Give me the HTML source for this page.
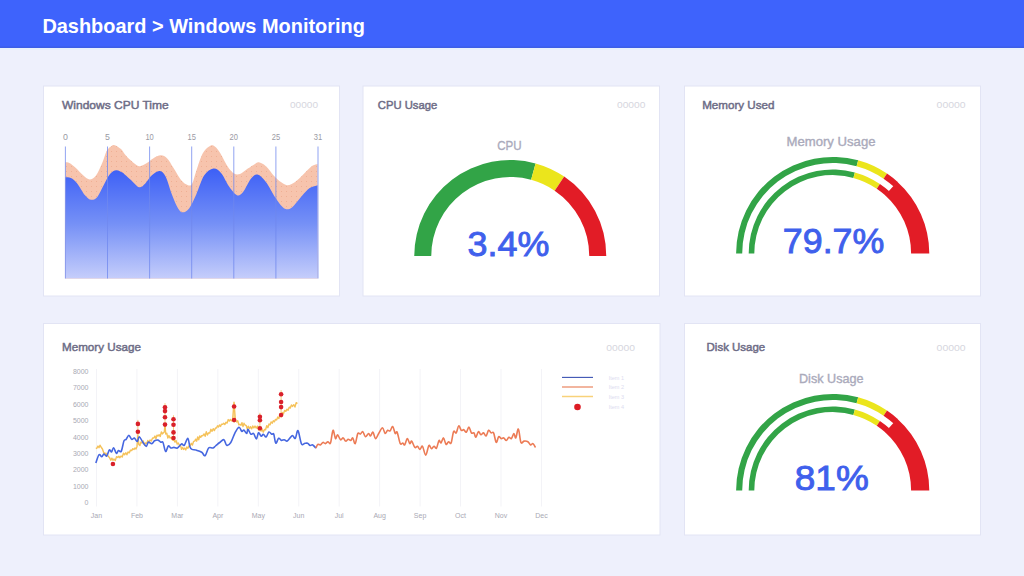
<!DOCTYPE html>
<html><head><meta charset="utf-8">
<style>
html,body{margin:0;padding:0;width:1024px;height:576px;overflow:hidden;background:#eef0fc;font-family:"Liberation Sans",sans-serif;}
svg{position:absolute;left:0;top:0;}
</style></head><body>
<svg width="1024" height="576" viewBox="0 0 1024 576">
<defs>
<linearGradient id="bg1" x1="0" y1="168" x2="0" y2="279" gradientUnits="userSpaceOnUse">
<stop offset="0" stop-color="#3c5ff6"/><stop offset="0.5" stop-color="#7590f6"/><stop offset="1" stop-color="#c6cefb"/>
</linearGradient>
<pattern id="dots" width="5" height="5" patternUnits="userSpaceOnUse"><rect width="5" height="5" fill="#f7c4ad"/><circle cx="1.5" cy="1.5" r="0.5" fill="#eda88c"/></pattern>
</defs>
<rect x="0" y="0" width="1024" height="576" fill="#eef0fc"/>
<rect x="0" y="0" width="1024" height="48" fill="#3e63fc"/><rect x="0" y="46.5" width="1024" height="1.5" fill="#3d5fe6"/><rect x="0" y="48" width="1024" height="2" fill="#e9f1fd"/>
<text x="42.4" y="32.6" fill="#ffffff" font-size="19.7" font-weight="bold" textLength="322.5" lengthAdjust="spacingAndGlyphs">Dashboard &gt; Windows Monitoring</text>

<g fill="#ffffff" stroke="#e2e4f4" stroke-width="1">
<rect x="43.5" y="86" width="296" height="210"/>
<rect x="363" y="86" width="296.5" height="210"/>
<rect x="684.5" y="86" width="296" height="210"/>
<rect x="43.5" y="323.5" width="616.5" height="211.5"/>
<rect x="684.5" y="323.5" width="296" height="211.5"/>
</g>

<g fill="#6d6c86" stroke="#6d6c86" stroke-width="0.45" font-size="11">
<text x="62" y="109.4" textLength="106.7" lengthAdjust="spacingAndGlyphs">Windows CPU Time</text>
<text x="377.8" y="109.4" textLength="59.4" lengthAdjust="spacingAndGlyphs">CPU Usage</text>
<text x="702.2" y="109.4" textLength="72.3" lengthAdjust="spacingAndGlyphs">Memory Used</text>
<text x="62" y="350.6" textLength="78.9" lengthAdjust="spacingAndGlyphs">Memory Usage</text>
<text x="706.6" y="350.6" textLength="58.6" lengthAdjust="spacingAndGlyphs">Disk Usage</text>
</g>
<g fill="#d6d6de" font-size="9.5">
<text x="290" y="108" textLength="28" lengthAdjust="spacingAndGlyphs">00000</text>
<text x="617" y="108" textLength="28.4" lengthAdjust="spacingAndGlyphs">00000</text>
<text x="936.6" y="108" textLength="29" lengthAdjust="spacingAndGlyphs">00000</text>
<text x="606.3" y="350.6" textLength="28.7" lengthAdjust="spacingAndGlyphs">00000</text>
<text x="936.6" y="350.6" textLength="29" lengthAdjust="spacingAndGlyphs">00000</text>
</g>

<!-- CPU time chart -->
<path d="M65.40,162.30 C66.07,162.43 67.70,162.18 69.40,163.10 C71.10,164.02 73.27,165.72 75.60,167.80 C77.93,169.88 81.05,173.65 83.40,175.60 C85.75,177.55 87.60,179.50 89.70,179.50 C91.80,179.50 93.92,178.33 96.00,175.60 C98.08,172.87 100.38,167.27 102.20,163.10 C104.02,158.93 105.33,153.47 106.90,150.60 C108.47,147.73 110.30,146.80 111.60,145.90 C112.90,145.00 113.13,144.68 114.70,145.20 C116.27,145.72 119.28,147.45 121.00,149.00 C122.72,150.55 123.29,152.53 125.00,154.50 C126.71,156.47 128.90,158.84 131.25,160.80 C133.60,162.76 136.49,165.87 139.10,166.25 C141.71,166.63 144.57,164.41 146.90,163.10 C149.23,161.79 150.77,159.70 153.10,158.40 C155.43,157.10 158.55,155.30 160.90,155.30 C163.25,155.30 165.12,156.32 167.20,158.40 C169.28,160.48 171.06,164.15 173.40,167.80 C175.74,171.45 178.90,177.43 181.25,180.30 C183.60,183.17 185.71,184.38 187.50,185.00 C189.29,185.62 190.54,186.35 192.00,184.00 C193.46,181.65 194.50,175.94 196.25,170.90 C198.00,165.86 200.42,157.78 202.50,153.75 C204.58,149.72 206.93,148.06 208.75,146.70 C210.57,145.34 211.58,144.68 213.40,145.60 C215.22,146.52 217.35,148.76 219.70,152.20 C222.05,155.64 225.16,162.73 227.50,166.25 C229.84,169.77 231.67,172.01 233.75,173.30 C235.83,174.59 237.66,174.78 240.00,174.00 C242.34,173.22 245.30,170.28 247.80,168.60 C250.30,166.92 253.15,164.95 255.00,163.90 C256.85,162.85 257.08,161.91 258.90,162.30 C260.72,162.69 263.17,163.77 265.90,166.25 C268.63,168.73 272.43,174.34 275.30,177.20 C278.17,180.06 280.75,182.10 283.10,183.40 C285.45,184.70 287.05,185.52 289.40,185.00 C291.75,184.48 294.33,182.65 297.20,180.30 C300.07,177.95 304.00,173.37 306.60,170.90 C309.20,168.43 310.98,166.67 312.80,165.50 C314.62,164.33 316.72,164.17 317.50,163.90 L317.5,278.5 L65.4,278.5 Z" fill="url(#dots)"/>
<path d="M65.40,177.20 C66.32,177.33 68.93,176.97 70.90,178.00 C72.87,179.03 74.85,180.53 77.20,183.40 C79.55,186.27 82.66,192.47 85.00,195.20 C87.34,197.93 89.17,199.55 91.25,199.80 C93.33,200.05 95.42,199.17 97.50,196.70 C99.58,194.23 101.67,188.78 103.75,185.00 C105.83,181.22 107.92,176.47 110.00,174.00 C112.08,171.53 114.17,170.45 116.25,170.20 C118.33,169.95 121.04,171.73 122.50,172.50 C123.96,173.27 123.54,173.50 125.00,174.80 C126.46,176.10 128.90,178.22 131.25,180.30 C133.60,182.38 136.76,186.78 139.10,187.30 C141.44,187.82 143.22,185.35 145.30,183.40 C147.38,181.45 149.25,177.68 151.60,175.60 C153.95,173.52 157.07,170.77 159.40,170.90 C161.73,171.03 163.52,172.48 165.60,176.40 C167.68,180.32 169.82,189.07 171.90,194.40 C173.98,199.73 176.28,205.42 178.10,208.40 C179.92,211.38 180.97,212.30 182.80,212.30 C184.63,212.30 186.86,211.38 189.10,208.40 C191.34,205.42 193.75,199.87 196.25,194.40 C198.75,188.93 201.24,179.90 204.10,175.60 C206.96,171.30 210.54,168.98 213.40,168.60 C216.26,168.22 218.63,170.30 221.25,173.30 C223.87,176.30 226.49,182.95 229.10,186.60 C231.71,190.25 234.57,194.30 236.90,195.20 C239.23,196.10 240.77,194.74 243.10,192.00 C245.43,189.26 248.50,181.67 250.90,178.75 C253.30,175.83 255.00,173.97 257.50,174.50 C260.00,175.03 262.93,178.07 265.90,181.90 C268.87,185.73 272.68,193.47 275.30,197.50 C277.92,201.53 279.78,204.15 281.60,206.10 C283.43,208.05 284.43,209.07 286.25,209.20 C288.07,209.33 289.89,209.12 292.50,206.90 C295.11,204.68 299.03,199.03 301.90,195.90 C304.77,192.77 307.10,189.87 309.70,188.10 C312.30,186.33 316.20,185.77 317.50,185.30 L317.5,278.5 L65.4,278.5 Z" fill="url(#bg1)"/>
<g stroke="#7089ee" stroke-width="0.9" opacity="0.85"><line x1="65.40" y1="146.5" x2="65.40" y2="278.5"/><line x1="107.50" y1="146.5" x2="107.50" y2="278.5"/><line x1="149.60" y1="146.5" x2="149.60" y2="278.5"/><line x1="191.70" y1="146.5" x2="191.70" y2="278.5"/><line x1="233.80" y1="146.5" x2="233.80" y2="278.5"/><line x1="275.90" y1="146.5" x2="275.90" y2="278.5"/><line x1="318.00" y1="146.5" x2="318.00" y2="278.5"/></g>
<g fill="#9a9aa4" font-size="8.8"><text x="65.40" y="140.3" text-anchor="middle">0</text><text x="107.50" y="140.3" text-anchor="middle">5</text><text x="145.40" y="140.3" textLength="8.4" lengthAdjust="spacingAndGlyphs">10</text><text x="187.50" y="140.3" textLength="8.4" lengthAdjust="spacingAndGlyphs">15</text><text x="229.60" y="140.3" textLength="8.4" lengthAdjust="spacingAndGlyphs">20</text><text x="271.70" y="140.3" textLength="8.4" lengthAdjust="spacingAndGlyphs">25</text><text x="313.80" y="140.3" textLength="8.4" lengthAdjust="spacingAndGlyphs">31</text></g>

<!-- gauges -->
<text x="497.2" y="149.5" fill="#aaaabb" stroke="#aaaabb" stroke-width="0.35" font-size="12.6" textLength="24.4" lengthAdjust="spacingAndGlyphs">CPU</text>
<path d="M414.25,256.00 A96.00,96.00 0 0 1 535.58,163.40 L531.10,179.80 A79.00,79.00 0 0 0 431.25,256.00 Z" fill="#32a447"/><path d="M535.58,163.40 A96.00,96.00 0 0 1 564.21,176.60 L554.65,190.66 A79.00,79.00 0 0 0 531.10,179.80 Z" fill="#ebe51c"/><path d="M564.21,176.60 A96.00,96.00 0 0 1 606.25,256.00 L589.25,256.00 A79.00,79.00 0 0 0 554.65,190.66 Z" fill="#e21c26"/>
<text x="467.6" y="256" fill="#3f60ec" stroke="#3f60ec" stroke-width="0.9" font-size="35.5" textLength="81.8" lengthAdjust="spacingAndGlyphs">3.4%</text>

<text x="786.5" y="146" fill="#aaaabb" stroke="#aaaabb" stroke-width="0.35" font-size="12.6" textLength="89" lengthAdjust="spacingAndGlyphs">Memory Usage</text>
<path d="M736.10,253.50 A96.60,96.60 0 0 1 858.19,160.32 L856.58,166.21 A90.50,90.50 0 0 0 742.20,253.50 Z" fill="#32a447"/><path d="M748.70,253.50 A84.00,84.00 0 0 1 854.87,172.48 L853.39,177.88 A78.40,78.40 0 0 0 754.30,253.50 Z" fill="#32a447"/><path d="M858.19,160.32 A96.60,96.60 0 0 1 887.00,173.60 L883.57,178.65 A90.50,90.50 0 0 0 856.58,166.21 Z" fill="#ebe51c"/><path d="M854.87,172.48 A84.00,84.00 0 0 1 879.92,184.03 L876.77,188.66 A78.40,78.40 0 0 0 853.39,177.88 Z" fill="#ebe51c"/><path d="M887.00,173.60 A96.60,96.60 0 0 1 897.71,182.05 L893.61,186.56 A90.50,90.50 0 0 0 883.57,178.65 Z" fill="#e21c26"/><path d="M879.92,184.03 A84.00,84.00 0 0 1 889.23,191.37 L885.46,195.51 A78.40,78.40 0 0 0 876.77,188.66 Z" fill="#e21c26"/><path d="M897.26,181.64 A96.60,96.60 0 0 1 929.30,253.50 L911.10,253.50 A78.40,78.40 0 0 0 885.10,195.18 Z" fill="#e21c26"/>
<text x="782.8" y="252.8" fill="#3f60ec" stroke="#3f60ec" stroke-width="0.9" font-size="35.5" textLength="101.6" lengthAdjust="spacingAndGlyphs">79.7%</text>

<text x="799" y="383" fill="#aaaabb" stroke="#aaaabb" stroke-width="0.35" font-size="12.6" textLength="64.5" lengthAdjust="spacingAndGlyphs">Disk Usage</text>
<path d="M736.10,490.50 A96.60,96.60 0 0 1 858.19,397.32 L856.58,403.21 A90.50,90.50 0 0 0 742.20,490.50 Z" fill="#32a447"/><path d="M748.70,490.50 A84.00,84.00 0 0 1 854.87,409.48 L853.39,414.88 A78.40,78.40 0 0 0 754.30,490.50 Z" fill="#32a447"/><path d="M858.19,397.32 A96.60,96.60 0 0 1 887.00,410.60 L883.57,415.65 A90.50,90.50 0 0 0 856.58,403.21 Z" fill="#ebe51c"/><path d="M854.87,409.48 A84.00,84.00 0 0 1 879.92,421.03 L876.77,425.66 A78.40,78.40 0 0 0 853.39,414.88 Z" fill="#ebe51c"/><path d="M887.00,410.60 A96.60,96.60 0 0 1 897.71,419.05 L893.61,423.56 A90.50,90.50 0 0 0 883.57,415.65 Z" fill="#e21c26"/><path d="M879.92,421.03 A84.00,84.00 0 0 1 889.23,428.37 L885.46,432.51 A78.40,78.40 0 0 0 876.77,425.66 Z" fill="#e21c26"/><path d="M897.26,418.64 A96.60,96.60 0 0 1 929.30,490.50 L911.10,490.50 A78.40,78.40 0 0 0 885.10,432.18 Z" fill="#e21c26"/>
<text x="794.8" y="490.2" fill="#3f60ec" stroke="#3f60ec" stroke-width="0.9" font-size="35.5" textLength="74" lengthAdjust="spacingAndGlyphs">81%</text>

<!-- memory chart -->
<g stroke="#f3f3f7" stroke-width="1"><line x1="96.50" y1="369" x2="96.50" y2="506.5"/><line x1="136.95" y1="369" x2="136.95" y2="506.5"/><line x1="177.40" y1="369" x2="177.40" y2="506.5"/><line x1="217.85" y1="369" x2="217.85" y2="506.5"/><line x1="258.30" y1="369" x2="258.30" y2="506.5"/><line x1="298.75" y1="369" x2="298.75" y2="506.5"/><line x1="339.20" y1="369" x2="339.20" y2="506.5"/><line x1="379.65" y1="369" x2="379.65" y2="506.5"/><line x1="420.10" y1="369" x2="420.10" y2="506.5"/><line x1="460.55" y1="369" x2="460.55" y2="506.5"/><line x1="501.00" y1="369" x2="501.00" y2="506.5"/><line x1="541.45" y1="369" x2="541.45" y2="506.5"/></g>
<g fill="#a9a9b4" font-size="7" text-anchor="end"><text x="88.5" y="505.30">0</text><text x="88.5" y="488.85">1000</text><text x="88.5" y="472.40">2000</text><text x="88.5" y="455.95">3000</text><text x="88.5" y="439.50">4000</text><text x="88.5" y="423.05">5000</text><text x="88.5" y="406.60">6000</text><text x="88.5" y="390.15">7000</text><text x="88.5" y="373.70">8000</text></g>
<g fill="#a9a9b4" font-size="7" text-anchor="middle"><text x="96.50" y="518">Jan</text><text x="136.95" y="518">Feb</text><text x="177.40" y="518">Mar</text><text x="217.85" y="518">Apr</text><text x="258.30" y="518">May</text><text x="298.75" y="518">Jun</text><text x="339.20" y="518">Jul</text><text x="379.65" y="518">Aug</text><text x="420.10" y="518">Sep</text><text x="460.55" y="518">Oct</text><text x="501.00" y="518">Nov</text><text x="541.45" y="518">Dec</text></g>
<g stroke="#f6c15c" stroke-width="1" opacity="0.8"><line x1="137.9" y1="419.9" x2="137.9" y2="434.8"/><line x1="165.0" y1="403.2" x2="165.0" y2="427.6"/><line x1="173.5" y1="415.3" x2="173.5" y2="441.0"/><line x1="234.1" y1="402.5" x2="234.1" y2="423.0"/><line x1="259.9" y1="412.8" x2="259.9" y2="431.3"/><line x1="281.1" y1="390.2" x2="281.1" y2="418.0"/></g>
<path d="M95.80,448.50 L96.90,448.13 L98.00,446.00 L99.00,447.70 L100.00,445.16 L101.00,447.00 L102.45,449.02 L103.90,453.30 L104.93,452.88 L105.95,455.25 L106.97,453.25 L108.00,456.00 L109.40,457.39 L110.80,460.30 L111.87,458.18 L112.93,460.31 L114.00,459.00 L115.27,460.59 L116.53,456.65 L117.80,457.50 L118.87,456.24 L119.93,457.76 L121.00,456.00 L122.23,457.09 L123.47,453.27 L124.70,454.70 L125.80,452.72 L126.90,454.79 L128.00,452.00 L129.23,452.87 L130.47,450.15 L131.70,450.60 L132.80,448.71 L133.90,449.47 L135.00,448.00 L136.00,448.91 L137.00,446.40 L137.90,435.00 L138.80,444.50 L139.87,445.45 L140.93,441.88 L142.00,443.00 L143.20,440.92 L144.40,444.82 L145.60,442.90 L146.70,443.43 L147.80,440.50 L148.90,442.63 L150.00,440.00 L151.30,440.98 L152.60,438.04 L153.90,438.00 L154.93,436.03 L155.95,438.78 L156.97,435.11 L158.00,436.00 L159.12,434.70 L160.24,436.51 L161.36,431.96 L162.48,433.92 L163.60,432.50 L164.30,432.00 L165.00,424.00 L165.70,434.00 L166.77,433.25 L167.85,438.04 L168.93,435.60 L170.00,438.00 L171.30,437.47 L172.60,440.11 L173.90,439.70 L175.00,442.13 L176.10,440.46 L177.20,444.12 L178.30,443.02 L179.40,445.30 L180.45,445.16 L181.50,449.30 L182.55,447.37 L183.60,449.40 L184.68,448.11 L185.76,449.91 L186.84,446.85 L187.92,448.25 L189.00,446.00 L190.14,445.78 L191.28,443.32 L192.42,445.10 L193.56,441.43 L194.70,441.10 L195.70,439.12 L196.70,441.17 L197.70,436.98 L198.70,439.79 L199.70,435.99 L200.70,437.34 L201.70,435.60 L202.85,435.73 L204.00,433.93 L205.15,436.28 L206.30,431.77 L207.45,435.05 L208.60,432.80 L209.75,433.14 L210.90,429.31 L212.05,431.32 L213.20,428.66 L214.35,430.61 L215.50,427.90 L216.50,427.97 L217.50,425.78 L218.50,426.97 L219.50,424.95 L220.50,426.43 L221.50,424.21 L222.50,424.40 L223.65,423.30 L224.80,424.58 L225.95,422.20 L227.10,423.13 L228.25,419.59 L229.40,421.00 L230.47,419.53 L231.53,420.88 L232.60,420.00 L234.00,402.20 L235.40,420.00 L236.55,421.92 L237.70,420.75 L238.85,424.78 L240.00,424.40 L241.00,425.27 L242.00,422.61 L243.00,426.65 L244.00,423.28 L245.00,425.00 L246.10,425.33 L247.20,428.73 L248.30,426.20 L249.40,428.60 L250.52,426.72 L251.64,428.89 L252.76,425.97 L253.88,427.97 L255.00,426.00 L256.23,428.04 L257.45,426.19 L258.67,429.95 L259.90,428.60 L261.03,431.08 L262.17,429.52 L263.30,432.10 L264.44,429.53 L265.58,429.74 L266.72,425.62 L267.86,427.68 L269.00,424.00 L270.08,424.87 L271.16,421.86 L272.24,423.14 L273.32,420.72 L274.40,421.70 L275.52,419.36 L276.63,419.90 L277.75,417.09 L278.87,418.54 L279.98,413.86 L281.10,414.70 L282.28,412.50 L283.46,413.75 L284.64,410.39 L285.82,411.36 L287.00,409.20 L288.10,410.27 L289.20,407.16 L290.30,408.06 L291.40,404.96 L292.50,406.40 L293.73,404.68 L294.95,407.04 L296.17,402.60 L297.40,403.60" fill="none" stroke="#f5c25a" stroke-width="1.4" stroke-linejoin="round"/>
<path d="M95.80,463.00 C96.33,461.62 98.00,455.73 99.00,454.70 C100.00,453.67 100.98,456.92 101.80,456.80 C102.62,456.68 103.08,454.13 103.90,454.00 C104.72,453.87 105.78,456.68 106.70,456.00 C107.62,455.32 108.60,450.57 109.40,449.90 C110.20,449.23 110.80,452.35 111.50,452.00 C112.20,451.65 112.78,447.58 113.60,447.80 C114.42,448.02 115.58,452.83 116.40,453.30 C117.22,453.77 117.69,450.94 118.50,450.60 C119.31,450.26 120.33,452.88 121.25,451.25 C122.17,449.62 123.19,442.78 124.00,440.80 C124.81,438.82 125.28,440.32 126.10,439.40 C126.92,438.48 127.97,435.30 128.90,435.30 C129.83,435.30 130.78,438.95 131.70,439.40 C132.62,439.85 133.48,437.65 134.40,438.00 C135.32,438.35 136.38,441.72 137.20,441.50 C138.02,441.28 138.37,436.58 139.30,436.70 C140.23,436.82 141.64,440.58 142.80,442.20 C143.96,443.82 145.33,446.40 146.25,446.40 C147.17,446.40 147.38,442.67 148.30,442.20 C149.23,441.73 150.75,443.83 151.80,443.60 C152.85,443.37 153.57,441.38 154.60,440.80 C155.63,440.22 156.97,439.87 158.00,440.10 C159.03,440.33 159.97,441.80 160.80,442.20 C161.63,442.60 162.20,440.95 163.00,442.50 C163.80,444.05 164.72,450.92 165.60,451.50 C166.48,452.08 167.40,446.58 168.30,446.00 C169.20,445.42 170.07,447.77 171.00,448.00 C171.93,448.23 172.83,447.40 173.90,447.40 C174.97,447.40 176.13,448.58 177.40,448.00 C178.67,447.42 180.35,444.35 181.50,443.90 C182.65,443.45 183.25,446.23 184.30,445.30 C185.35,444.37 186.87,438.07 187.80,438.30 C188.73,438.53 189.20,444.85 189.90,446.70 C190.60,448.55 190.97,448.83 192.00,449.40 C193.03,449.97 194.48,449.63 196.10,450.10 C197.72,450.57 200.20,451.27 201.70,452.20 C203.20,453.13 203.95,456.40 205.10,455.70 C206.25,455.00 207.32,449.28 208.60,448.00 C209.88,446.72 211.65,448.33 212.80,448.00 C213.95,447.67 214.35,446.92 215.50,446.00 C216.65,445.08 218.30,443.55 219.70,442.50 C221.10,441.45 222.73,439.23 223.90,439.70 C225.07,440.17 225.55,444.83 226.70,445.30 C227.85,445.77 229.42,444.58 230.80,442.50 C232.18,440.42 233.63,435.35 235.00,432.80 C236.37,430.25 237.87,427.43 239.00,427.20 C240.13,426.97 240.98,430.93 241.80,431.40 C242.62,431.87 243.08,429.65 243.90,430.00 C244.72,430.35 246.02,433.62 246.70,433.50 C247.38,433.38 247.32,429.18 248.00,429.30 C248.68,429.42 249.87,433.50 250.80,434.20 C251.73,434.90 252.67,432.70 253.60,433.50 C254.53,434.30 255.58,439.12 256.40,439.00 C257.22,438.88 257.69,433.26 258.50,432.80 C259.31,432.34 260.45,436.02 261.25,436.25 C262.05,436.48 262.49,434.07 263.30,434.20 C264.11,434.32 265.17,437.37 266.10,437.00 C267.03,436.63 267.97,432.47 268.90,432.00 C269.83,431.53 270.89,433.83 271.70,434.20 C272.51,434.57 273.07,432.70 273.75,434.20 C274.43,435.70 274.99,442.52 275.80,443.20 C276.61,443.88 277.67,438.77 278.60,438.30 C279.53,437.83 280.47,440.17 281.40,440.40 C282.33,440.63 283.27,439.58 284.20,439.70 C285.13,439.82 286.08,441.33 287.00,441.10 C287.92,440.87 288.78,439.22 289.70,438.30 C290.62,437.38 291.57,435.60 292.50,435.60 C293.43,435.60 294.38,439.12 295.30,438.30 C296.22,437.48 296.97,429.77 298.00,430.70 C299.03,431.63 300.33,441.80 301.50,443.90 C302.67,446.00 303.98,443.40 305.00,443.30 C306.02,443.20 306.73,442.93 307.60,443.30 C308.47,443.67 309.35,445.23 310.20,445.50 C311.05,445.77 311.75,444.47 312.70,444.90 C313.65,445.33 315.37,447.57 315.90,448.10" fill="none" stroke="#4667e0" stroke-width="1.6" stroke-linejoin="round"/>
<path d="M315.90,448.10 C316.22,447.47 317.07,444.83 317.80,444.30 C318.53,443.77 319.45,445.22 320.30,444.90 C321.15,444.58 322.05,442.62 322.90,442.40 C323.75,442.18 324.57,443.72 325.40,443.60 C326.23,443.48 327.05,441.80 327.90,441.70 C328.75,441.60 329.65,444.90 330.50,443.00 C331.35,441.10 332.17,431.03 333.00,430.30 C333.83,429.57 334.75,437.85 335.50,438.60 C336.25,439.35 336.65,434.60 337.50,434.80 C338.35,435.00 339.65,439.28 340.60,439.80 C341.55,440.32 342.35,437.68 343.20,437.90 C344.05,438.12 344.87,440.88 345.70,441.10 C346.53,441.32 347.35,439.30 348.20,439.20 C349.05,439.10 350.05,440.72 350.80,440.50 C351.55,440.28 351.97,437.38 352.70,437.90 C353.43,438.42 354.35,444.33 355.20,443.60 C356.05,442.87 356.95,435.08 357.80,433.50 C358.65,431.92 359.47,434.42 360.30,434.10 C361.13,433.78 361.95,431.17 362.80,431.60 C363.65,432.03 364.43,436.38 365.40,436.70 C366.37,437.02 367.75,433.62 368.60,433.50 C369.45,433.38 369.77,436.22 370.50,436.00 C371.23,435.78 372.17,431.77 373.00,432.20 C373.83,432.63 374.55,438.38 375.50,438.60 C376.45,438.82 377.53,435.30 378.70,433.50 C379.87,431.70 381.43,427.80 382.50,427.80 C383.57,427.80 384.25,433.08 385.10,433.50 C385.95,433.92 386.77,430.73 387.60,430.30 C388.43,429.87 389.25,431.53 390.10,430.90 C390.95,430.27 391.85,426.07 392.70,426.50 C393.55,426.93 394.47,432.55 395.20,433.50 C395.93,434.45 396.25,430.52 397.10,432.20 C397.95,433.88 399.35,441.80 400.30,443.60 C401.25,445.40 402.07,442.78 402.80,443.00 C403.53,443.22 403.95,445.63 404.70,444.90 C405.45,444.17 406.45,438.82 407.30,438.60 C408.15,438.38 409.07,443.18 409.80,443.60 C410.53,444.02 410.85,440.45 411.70,441.10 C412.55,441.75 413.95,446.65 414.90,447.50 C415.85,448.35 416.55,445.88 417.40,446.20 C418.25,446.52 419.15,449.40 420.00,449.40 C420.85,449.40 421.55,445.25 422.50,446.20 C423.45,447.15 424.63,455.22 425.70,455.10 C426.77,454.98 427.95,446.57 428.90,445.50 C429.85,444.43 430.55,448.58 431.40,448.70 C432.25,448.82 433.15,446.30 434.00,446.20 C434.85,446.10 435.67,449.05 436.50,448.10 C437.33,447.15 438.25,441.35 439.00,440.50 C439.75,439.65 440.25,443.43 441.00,443.00 C441.75,442.57 442.67,437.68 443.50,437.90 C444.33,438.12 445.15,443.67 446.00,444.30 C446.85,444.93 447.75,441.92 448.60,441.70 C449.45,441.48 450.27,444.68 451.10,443.00 C451.93,441.32 452.75,433.28 453.60,431.60 C454.45,429.92 455.35,433.85 456.20,432.90 C457.05,431.95 457.85,426.33 458.70,425.90 C459.55,425.47 460.45,429.67 461.30,430.30 C462.15,430.93 462.97,429.38 463.80,429.70 C464.63,430.02 465.45,432.63 466.30,432.20 C467.15,431.77 468.05,426.98 468.90,427.10 C469.75,427.22 470.55,431.93 471.40,432.90 C472.25,433.87 473.25,432.17 474.00,432.90 C474.75,433.63 475.17,437.52 475.90,437.30 C476.63,437.08 477.57,432.02 478.40,431.60 C479.23,431.18 480.05,434.58 480.90,434.80 C481.75,435.02 482.65,432.70 483.50,432.90 C484.35,433.10 485.15,436.43 486.00,436.00 C486.85,435.57 487.75,430.82 488.60,430.30 C489.45,429.78 490.27,432.47 491.10,432.90 C491.93,433.33 492.75,431.32 493.60,432.90 C494.45,434.48 495.35,441.77 496.20,442.40 C497.05,443.03 497.87,437.33 498.70,436.70 C499.53,436.07 500.35,438.40 501.20,438.60 C502.05,438.80 502.95,437.58 503.80,437.90 C504.65,438.22 505.45,440.60 506.30,440.50 C507.15,440.40 508.05,437.62 508.90,437.30 C509.75,436.98 510.57,439.23 511.40,438.60 C512.23,437.97 513.17,433.62 513.90,433.50 C514.63,433.38 515.05,438.65 515.80,437.90 C516.55,437.15 517.55,428.25 518.40,429.00 C519.25,429.75 519.95,440.38 520.90,442.40 C521.85,444.42 522.93,441.22 524.10,441.10 C525.27,440.98 526.83,441.07 527.90,441.70 C528.97,442.33 529.65,444.58 530.50,444.90 C531.35,445.22 532.17,443.17 533.00,443.60 C533.83,444.03 535.08,446.85 535.50,447.50" fill="none" stroke="#ec7b55" stroke-width="1.6" stroke-linejoin="round"/>
<g fill="#d9202a"><circle cx="112.9" cy="464.0" r="2.3"/><circle cx="137.9" cy="423.9" r="2.3"/><circle cx="137.9" cy="431.8" r="2.3"/><circle cx="165.0" cy="407.2" r="2.3"/><circle cx="165.0" cy="411.1" r="2.3"/><circle cx="165.0" cy="417.3" r="2.3"/><circle cx="165.0" cy="424.6" r="2.3"/><circle cx="173.5" cy="419.3" r="2.3"/><circle cx="173.5" cy="424.7" r="2.3"/><circle cx="173.5" cy="432.4" r="2.3"/><circle cx="173.5" cy="438.0" r="2.3"/><circle cx="234.1" cy="406.5" r="2.3"/><circle cx="234.1" cy="420.0" r="2.3"/><circle cx="259.9" cy="416.8" r="2.3"/><circle cx="259.9" cy="420.3" r="2.3"/><circle cx="259.9" cy="428.3" r="2.3"/><circle cx="281.1" cy="394.2" r="2.3"/><circle cx="281.1" cy="402.0" r="2.3"/><circle cx="281.1" cy="407.1" r="2.3"/><circle cx="281.1" cy="415.0" r="2.3"/></g>

<!-- legend -->
<line x1="562" y1="377.4" x2="593" y2="377.4" stroke="#3b53b3" stroke-width="1.1"/>
<line x1="562" y1="387" x2="593" y2="387" stroke="#e9845f" stroke-width="1.2"/>
<line x1="562" y1="396.5" x2="593" y2="396.5" stroke="#f8d27a" stroke-width="1.5"/>
<circle cx="577.5" cy="407" r="3.3" fill="#dd1c25"/>
<g fill="#dcdcf0" font-size="5.5">
<text x="608.7" y="379.5">Item 1</text><text x="608.7" y="389">Item 2</text><text x="608.7" y="398.5">Item 3</text><text x="608.7" y="408.5">Item 4</text>
</g>
</svg>
</body></html>
